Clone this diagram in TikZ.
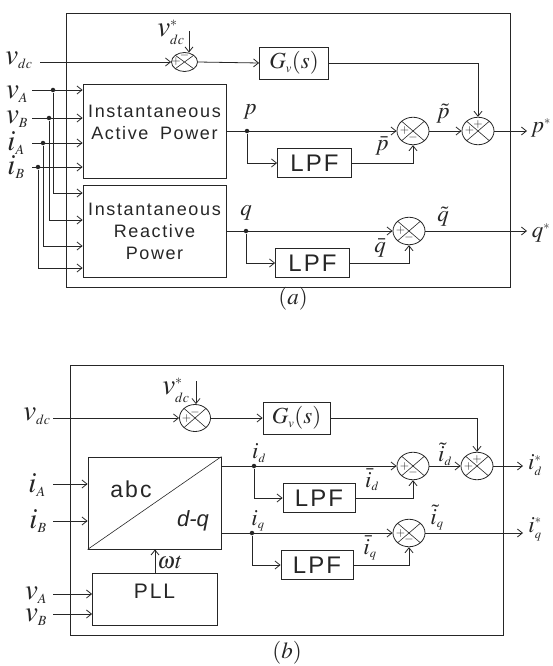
\documentclass[tikz,border=0pt]{standalone}
\usepackage{mathptmx}
\usepackage{fontspec}
\newfontfamily\blkfont[LetterSpace=9]{Liberation Sans}
\newfontfamily\blkplain{Liberation Sans}
\DeclareMathSizes{29}{29}{14}{10}
\DeclareMathSizes{23}{23}{12.5}{9}
\usetikzlibrary{positioning,arrows.meta,shapes.geometric,calc}
\colorlet{ln}{black!85}

\begin{document}
\begin{tikzpicture}[x=1pt, y=-1pt, color=ln, line width=0.8pt,
    font=\fontsize{23}{25}\selectfont,
    frame/.style={draw, inner sep=0pt},
    blk/.style={draw, inner sep=0pt, align=center,
                font=\blkfont\fontsize{18}{22}\selectfont},
    lpf/.style={blk, minimum width=74pt, minimum height=29pt,
                font=\blkfont\fontsize{24}{25}\selectfont},
    gbox/.style={blk, minimum width=69pt, minimum height=32pt,
                font=\fontsize{23}{25}\selectfont},
    sumn/.style={ellipse, draw, inner sep=0pt, minimum width=32pt, minimum height=27.5pt,
                path picture={\draw[line width=0.6pt]
                  (path picture bounding box.south west) -- (path picture bounding box.north east)
                  (path picture bounding box.north west) -- (path picture bounding box.south east);}},
    sgn/.style={font=\fontsize{12}{12}\selectfont, inner sep=0pt},
    plusW/.style={label={[sgn, xshift=-8.5pt]center:$+$}},
    plusN/.style={label={[sgn, yshift=6.5pt]center:$+$}},
    minusN/.style={label={[sgn, yshift=6pt]center:$-$}},
    minusS/.style={label={[sgn, yshift=-6.5pt]center:$-$}},
    arr/.style={-{Straight Barb[length=5pt, width=8pt]}},
    dot/.style={circle, fill, inner sep=0pt, minimum size=4.5pt},
    lbl/.style={inner sep=0pt},
    big/.style={lbl, font=\fontsize{29}{31}\selectfont}
  ]
  \useasboundingbox (0,0) rectangle (552,666);

  % ---- (a) instantaneous power ----
  \node[frame, minimum width=444pt, minimum height=274pt] (fra) at (288,150) {};
  \node[lbl] (capa) at (293,299) {$(a)$};

  \node[big] (vdca) at (19,60) {$v_{dc}$};
  \coordinate (vdcina) at (40,62);
  \node[sumn, plusW, minusN, minimum width=26pt, minimum height=19pt,
        sgn/.append style={font=\fontsize{10}{10}\selectfont}] (sva) at (184.5,62) {};
  \node[big] (vsta) at (171,32) {$v^*_{dc}$};
  \coordinate (vsttopa) at (189,31);
  \node[gbox] (ga) at (294,63) {$G_v(s)$};

  \node[blk, minimum width=143pt, minimum height=94pt] (acta) at (154.5,131) {};
  \node[blk, draw=none] (actat) at (154.5,122) {Instantaneous\\Active\hspace{5pt} Power};
  \node[blk, minimum width=143pt, minimum height=92pt] (reaa) at (154.5,231)
    {Instantaneous\\Reactive\\Power};

  % input signals
  \node[big] (lvA) at (17,94) {$v_A$};
  \node[big] (lvB) at (17,119) {$v_B$};
  \node[big] (liA) at (16,143) {$i_A$};
  \node[big] (liB) at (16,167) {$i_B$};
  \coordinate (invA) at (32,90);
  \coordinate (invB) at (32,118);
  \coordinate (iniA) at (32,143);
  \coordinate (iniB) at (32,167);
  \node[dot] (dvA) at (53,90) {};
  \node[dot] (dvB) at (49,118) {};
  \node[dot] (diA) at (43,143) {};
  \node[dot] (diB) at (38,167) {};

  \node[sumn, plusW, minusS] (spa) at (413,131) {};
  \node[sumn, plusW, plusN] (sPa) at (478,131) {};
  \node[sumn, plusW, minusS] (sqa) at (409,231) {};
  \node[lpf] (lpfpa) at (314.5,163) {LPF};
  \node[lpf] (lpfqa) at (312.5,263) {LPF};
  \node[dot] (dpa) at (247,131) {};
  \node[dot] (dqa) at (246,231) {};
  \node[lbl] (pa) at (250,112) {$p$};
  \node[lbl] (qa) at (246,213) {$q$};
  \node[lbl] (ptla) at (443,114) {$\tilde{p}$};
  \node[lbl] (pbra) at (382,146) {$\bar{p}$};
  \node[lbl] (qtla) at (443,217) {$\tilde{q}$};
  \node[lbl] (qbra) at (380,248) {$\bar{q}$};
  \coordinate (pouta) at (527,131);
  \coordinate (qouta) at (527,231);
  \node[lbl] (psta) at (541,128) {$p^*$};
  \node[lbl] (qsta) at (541,233) {$q^*$};

  \draw[arr] (vdcina) -- (sva.west);
  \draw[arr] (vsttopa) -- (vsttopa |- sva.68);
  \draw[arr] (sva.east) -- (ga.west);
  \draw[arr] (ga.east) -| (sPa.north);
  \foreach \n in {vA, vB, iA, iB}
    \draw[arr] (in\n) -- (in\n -| acta.west);
  \foreach \n/\y in {vA/193, vB/220, iA/246, iB/268}
    \draw[arr] (d\n) |- (reaa.west |- 0,\y);
  \draw[arr] (acta.east) -- (spa.west);
  \draw[arr] (dpa) |- (lpfpa.west);
  \draw[arr] (lpfpa.east) -| (spa.south);
  \draw[arr] (spa.east) -- (sPa.west);
  \draw[arr] (sPa.east) -- (pouta);
  \draw[arr] (reaa.east) -- (sqa.west);
  \draw[arr] (dqa) |- (lpfqa.west);
  \draw[arr] (lpfqa.east) -| (sqa.south);
  \draw[arr] (sqa.east) -- (qouta);

  % ---- (b) synchronous reference frame ----
  \node[frame, minimum width=433pt, minimum height=270pt] (frb) at (286.5,500) {};
  \node[lbl] (capb) at (287,653) {$(b)$};

  \node[big] (vdcb) at (37,416) {$v_{dc}$};
  \coordinate (vdcinb) at (53,418);
  \node[sumn, plusW, minusN, minimum width=31pt, minimum height=27pt] (svb) at (195,418) {};
  \node[big] (vstb) at (176,390) {$v^*_{dc}$};
  \coordinate (vsttopb) at (196,381);
  \node[gbox, minimum width=67pt] (gb) at (296.5,418) {$G_v(s)$};

  \node[blk, minimum width=133pt, minimum height=92pt] (Tb) at (154.5,503) {};
  \draw[line width=0.6pt] (Tb.south west) -- (Tb.north east);
  \node[lbl, font=\blkfont\fontsize{23}{24}\selectfont] (abcb) at (131,489) {abc};
  \node[lbl, font=\blkplain\itshape\fontsize{22}{24}\selectfont] (dqb) at (193,521) {d-q};
  \node[blk, minimum width=125pt, minimum height=52pt] (pllb) at (155,599) {};
  \node[lbl, font=\blkfont\fontsize{21}{22}\selectfont] (pllt) at (154.5,591) {PLL};
  \node[lbl] (wtb) at (170,562) {$\omega t$};

  \node[big] (liAb) at (37,485) {$i_A$};
  \node[big] (liBb) at (38,521) {$i_B$};
  \node[big] (lvAb) at (36,595) {$v_A$};
  \node[big] (lvBb) at (36,617) {$v_B$};
  \coordinate (iniAb) at (53,484);
  \coordinate (iniBb) at (53,521);
  \coordinate (invAb) at (53,594);
  \coordinate (invBb) at (53,614);

  \node[sumn, plusW, minusS] (sdb) at (413,466) {};
  \node[sumn, plusW, plusN] (sSb) at (477,466) {};
  \node[sumn, plusW, minusS] (sqb) at (409,533) {};
  \node[lpf, minimum width=72pt] (lpfdb) at (319,498) {LPF};
  \node[lpf, minimum width=72pt] (lpfqb) at (317,565) {LPF};
  \node[dot] (ddb) at (254,466) {};
  \node[dot] (dqb2) at (252,533) {};
  \node[lbl] (idb) at (259,453) {$i_d$};
  \node[lbl] (iqb) at (258,521) {$i_q$};
  \node[lbl] (idtlb) at (445,454) {$\tilde{i}_d$};
  \node[lbl] (idbrb) at (372,480) {$\bar{i}_d$};
  \node[lbl] (iqtlb) at (437,518) {$\tilde{i}_q$};
  \node[lbl] (iqbrb) at (370,548) {$\bar{i}_q$};
  \coordinate (idoutb) at (523,466);
  \coordinate (iqoutb) at (523,533);
  \node[lbl] (idstb) at (535,465) {$i^*_d$};
  \node[lbl] (iqstb) at (535,529) {$i^*_q$};

  \draw[arr] (vdcinb) -- (svb.west);
  \draw[arr] (vsttopb) -- (vsttopb |- svb.north);
  \draw[arr] (svb.east) -- (gb.west);
  \draw[arr] (gb.east) -| (sSb.north);
  \foreach \n in {iAb, iBb}
    \draw[arr] (in\n) -- (in\n -| Tb.west);
  \foreach \n in {vAb, vBb}
    \draw[arr] (in\n) -- (in\n -| pllb.west);
  \draw[arr] (pllb.north) -- (pllb.north |- Tb.south);
  \draw[arr] (Tb.east |- sdb) -- (sdb.west);
  \draw[arr] (ddb) |- (lpfdb.west);
  \draw[arr] (lpfdb.east) -| (sdb.south);
  \draw[arr] (sdb.east) -- (sSb.west);
  \draw[arr] (sSb.east) -- (idoutb);
  \draw[arr] (Tb.east |- sqb) -- (sqb.west);
  \draw[arr] (dqb2) |- (lpfqb.west);
  \draw[arr] (lpfqb.east) -| (sqb.south);
  \draw[arr] (sqb.east) -- (iqoutb);
\end{tikzpicture}
\end{document}
